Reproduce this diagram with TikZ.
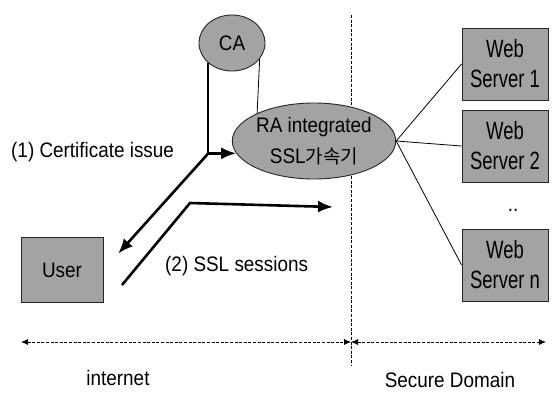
\documentclass[tikz,border=0pt]{standalone}
\usepackage{fontspec}
\setmainfont[FakeStretch=0.9]{Liberation Sans}
\newfontfamily\condfont[FakeStretch=0.74]{Liberation Sans}
\newfontfamily\krfont{Noto Sans CJK KR}
\usetikzlibrary{shapes.geometric,arrows.meta}
\definecolor{boxgray}{gray}{0.64}
\begin{document}
\begin{tikzpicture}[x=1pt,y=-1pt,
  greyfill/.style={fill=boxgray,draw=black!85,line width=0.9pt},
  oval/.style={greyfill,ellipse,inner sep=0pt,align=center},
  serverbox/.style={greyfill,rectangle,minimum width=86pt,minimum height=72pt,
    inner sep=0pt,align=center,font=\condfont\fontsize{25}{30}\selectfont},
  thickarrow/.style={line width=2.6pt,-{Latex[length=15pt,width=12pt]}},
  thinline/.style={line width=0.8pt},
  domainline/.style={dash pattern=on 3pt off 1.6pt,line width=0.8pt},
  domaintip/.style={domainline,{Latex[length=7pt,width=6pt]}-{Latex[length=7pt,width=6pt]}},
  txt/.style={inner sep=0pt,font=\fontsize{21}{25}\selectfont}
]
\useasboundingbox (0,0) rectangle (555,392);

% boundary between the internet and the secure domain
\coordinate (vtop) at (351,15);
\coordinate (vbot) at (351,366);
\draw[domainline] (vtop) -- (vbot);

% authorities and accelerator
\node[oval,minimum width=66pt,minimum height=56pt,font=\fontsize{21}{25}\selectfont] (ca) at (232,43) {CA};
\node[oval,minimum width=154pt,minimum height=76pt,font=\fontsize{21}{31}\selectfont] (ra) at (314,141)
  {RA integrated\\SSL{\krfont\fontsize{19}{31}\selectfont 가속기}};

% web servers
\node[serverbox] (ws1) at (505,64) {Web\\Server 1};
\node[serverbox] (ws2) at (505,146) {Web\\Server 2};
\node[txt] (dots) at (513,210) {..};
\node[serverbox] (wsn) at (505,265) {Web\\Server n};

% client
\node[greyfill,minimum width=82pt,minimum height=65pt,inner sep=0pt,
  font=\fontsize{21}{25}\selectfont] (user) at (62,270) {User};

% accelerator to servers
\draw[thinline] (ra.east) -- (ws1.west);
\draw[thinline] (ra.east) -- (ws2.west);
\draw[thinline] (ra.east) -- (wsn.west);

% certificate issue path
\draw[thinline] (ca.-30) -- (ra.154);
\coordinate (j) at (ca.south west |- ra.189);
\draw[line width=2pt] (ca.south west) -- (j);
\draw[thickarrow] (j) -- (ra.189);
\draw[thickarrow,shorten >=22pt] (j) -- (user.east);

% SSL session path
\coordinate (s0) at (122,285);
\coordinate (s1) at (190,203);
\coordinate (s2) at (333,207);
\draw[thickarrow] (s0) -- (s1) -- (s2);

% labels
\node[txt,anchor=west] (t1) at (11,152) {(1) Certificate issue};
\node[txt,anchor=west] (t2) at (165,266) {(2) SSL sessions};

% domain extents
\coordinate (hl) at (21,342);
\coordinate (hm) at (351,342);
\coordinate (hr) at (546,342);
\draw[domaintip] (hl) -- (hm);
\draw[domaintip] (hm) -- (hr);
\node[txt] (inet) at (118,378) {internet};
\node[txt] (sec) at (450,380) {Secure Domain};
\end{tikzpicture}
\end{document}
